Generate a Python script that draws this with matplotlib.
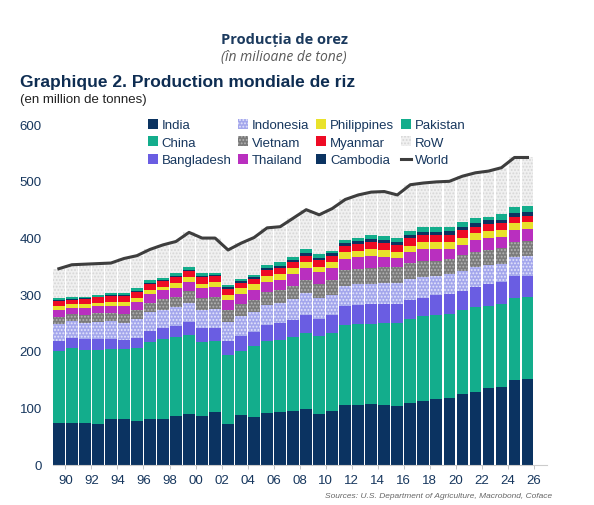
import numpy as np
import matplotlib.pyplot as plt
from matplotlib.patches import Patch
from matplotlib.lines import Line2D

plt.rcParams['font.family'] = ['Liberation Sans', 'DejaVu Sans']
plt.rcParams['hatch.linewidth'] = 0.9

# crop years 1989/90 .. 2025/26, million tonnes (milled)
years = np.arange(1989, 2026)
india = [73, 74, 74, 72, 80, 81, 77, 80, 81, 85, 89, 85, 93, 71, 88, 83, 91, 93, 95,
         98, 89, 95, 104, 104, 106, 104, 103, 108, 112, 115, 118, 124, 128, 134, 137, 149, 150]
china = [127, 131, 128, 130, 123, 122, 129, 136, 141, 140, 139, 130, 124, 122, 112, 125, 126,
         127, 130, 134, 137, 137, 141, 143, 142, 145, 146, 148, 149, 148, 147, 148, 149, 146,
         145, 145, 145]
bangladesh = [17.7, 17.9, 18.3, 18.3, 18.0, 17.0, 17.7, 18.9, 18.9, 19.9, 23.1, 25.1, 24.3,
              25.2, 26.2, 25.2, 28.8, 29.0, 28.8, 31.2, 31.0, 31.7, 33.7, 33.8, 34.4, 34.5,
              34.5, 34.6, 32.7, 34.9, 35.9, 34.6, 35.9, 37.6, 39.1, 37.6, 38.0]
indonesia = [29.1, 29.4, 29.6, 31.4, 31.3, 30.2, 32.3, 33.2, 32.0, 32.0, 33.2, 33.0, 33.0,
             33.4, 35.0, 34.8, 35.0, 35.3, 37.0, 38.3, 36.4, 35.5, 36.5, 36.6, 36.3, 35.6,
             36.2, 37.0, 37.0, 34.2, 34.7, 34.5, 34.4, 34.0, 33.0, 34.1, 34.6]
vietnam = [12.4, 12.4, 13.2, 14.4, 14.8, 15.5, 16.6, 17.3, 18.4, 19.0, 20.9, 20.5, 21.0,
           21.5, 22.1, 22.7, 22.8, 22.9, 24.4, 24.4, 25.0, 26.4, 27.2, 27.5, 28.2, 28.2,
           27.6, 27.4, 27.7, 27.3, 27.1, 27.4, 27.6, 27.0, 26.9, 27.2, 27.0]
thailand = [13.6, 11.3, 13.2, 12.4, 12.4, 14.3, 14.0, 14.4, 15.5, 15.4, 16.5, 17.1, 17.5,
            17.2, 18.0, 17.4, 18.2, 18.3, 19.8, 19.9, 20.3, 20.3, 20.5, 20.2, 20.5, 18.8,
            15.8, 19.2, 20.6, 20.3, 17.7, 18.9, 19.9, 20.9, 20.0, 20.1, 20.0]
philippines = [6.1, 6.3, 6.1, 6.4, 6.9, 7.2, 7.3, 7.6, 5.6, 7.8, 8.1, 8.1, 8.5, 8.8, 9.2,
               9.4, 9.8, 10.5, 10.8, 10.7, 9.8, 10.5, 10.7, 11.4, 11.9, 11.9, 11.0, 11.7,
               12.2, 11.7, 11.9, 12.4, 12.5, 12.0, 12.0, 11.8, 12.0]
myanmar = [8.8, 8.4, 8.6, 9.7, 10.3, 10.5, 10.7, 10.9, 10.3, 10.6, 10.9, 10.8, 10.4, 10.7,
           9.5, 9.6, 10.4, 10.6, 10.7, 11.0, 11.2, 10.5, 10.8, 11.2, 11.9, 12.6, 12.2, 12.7,
           13.2, 13.2, 12.7, 12.6, 11.9, 12.2, 12.0, 12.0, 12.0]
cambodia = [1.7, 1.6, 1.6, 1.4, 1.4, 1.5, 2.0, 2.2, 2.3, 2.4, 2.6, 2.6, 2.5, 2.3, 2.8, 2.6,
            3.8, 4.0, 4.2, 4.6, 4.6, 5.3, 5.5, 5.8, 5.8, 5.8, 5.8, 6.3, 6.1, 5.9, 5.9, 6.0,
            6.2, 6.6, 6.7, 7.1, 7.0]
pakistan = [3.2, 3.2, 3.2, 3.1, 4.0, 3.4, 4.0, 4.3, 4.3, 4.7, 5.2, 4.8, 3.9, 4.5, 4.8, 5.0,
            5.5, 5.4, 5.6, 6.9, 6.9, 4.8, 6.2, 5.5, 6.8, 7.0, 6.8, 6.9, 7.5, 7.2, 7.4, 8.4,
            9.3, 5.5, 9.9, 9.7, 9.5]
world = [345, 352, 353, 354, 355, 363, 368, 379, 387, 393, 409, 399, 399, 378, 390, 400,
         417, 419, 434, 449, 440, 451, 467, 475, 480, 481, 475, 493, 496, 498, 499, 508,
         514, 517, 523, 541, 541]

countries = [india, china, bangladesh, indonesia, vietnam, thailand,
             philippines, myanmar, cambodia, pakistan]
row = np.array(world) - np.sum(np.array(countries), axis=0)

names = ['India', 'China', 'Bangladesh', 'Indonesia', 'Vietnam', 'Thailand',
         'Philippines', 'Myanmar', 'Cambodia', 'Pakistan', 'RoW']
series = countries + [row]
faces = ['#0b3361', '#13ad8c', '#6a5de2', '#a3a6ec', '#7a7a7a', '#b92fbf',
         '#e9e22b', '#ee0b25', '#0b3361', '#13ad8c', '#f0f0f0']
hatches = [None, None, None, '.....', '.....', None, None, None, None, None, '.....']
hcols = [None, None, None, '#e4e5fb', '#b4b4b4', None, None, None, None, None, '#d6d6d6']

navy = '#17375e'

fig = plt.figure(figsize=(5.94, 5.06), dpi=100)
ax = fig.add_axes([53 / 594, 1 - 465.5 / 506, 494 / 594, 340.5 / 506])

x = years + 0.5
bottom = np.zeros(len(years))
handles = []
for vals, name, fc, h, hc in zip(series, names, faces, hatches, hcols):
    vals = np.array(vals, dtype=float)
    if h:
        ax.bar(x, vals, 0.9, bottom=bottom, color=fc, edgecolor=hc, hatch=h, linewidth=0)
        handles.append(Patch(facecolor=fc, edgecolor=hc, hatch=h, linewidth=0, label=name))
    else:
        ax.bar(x, vals, 0.9, bottom=bottom, color=fc, linewidth=0)
        handles.append(Patch(facecolor=fc, linewidth=0, label=name))
    bottom += vals

ax.plot(x, world, color='#3e3e3e', lw=2.2, solid_joinstyle='round')
handles.append(Line2D([], [], color='#3e3e3e', lw=2.2, label='World'))

ax.set_xlim(1989.05, 2027)
ax.set_ylim(0, 600)
ax.set_yticks(range(0, 601, 100))
xt = np.arange(1990, 2027, 2)
ax.set_xticks(xt)
ax.set_xticklabels(['%02d' % (t % 100) for t in xt])
ax.tick_params(axis='y', length=0, pad=8, labelsize=9.5, labelcolor=navy)
ax.tick_params(axis='x', length=3, width=0.6, color='#bbbbbb', pad=4,
               labelsize=9.5, labelcolor=navy)
for s in ['top', 'right', 'left']:
    ax.spines[s].set_visible(False)
ax.spines['bottom'].set_color('#cccccc')
ax.spines['bottom'].set_linewidth(0.8)

fig.legend(handles=handles, ncol=4, loc='upper left', bbox_to_anchor=(148 / 594, 1 - 120 / 506),
           frameon=False, fontsize=9.5, labelcolor=navy, handlelength=0.75, handleheight=0.75,
           handletextpad=0.3, columnspacing=0.5, labelspacing=0.38, borderpad=0, borderaxespad=0)

fig.text(284 / 594, 1 - 40 / 506, 'Producția de orez', ha='center', va='center',
         fontsize=10.5, fontweight='bold', color='#1b3a5e', family=['Open Sans', 'DejaVu Sans'])
fig.text(284 / 594, 1 - 57 / 506, '(în milioane de tone)', ha='center', va='center',
         fontsize=10, style='italic', color='#5a5a5a', family=['Open Sans', 'DejaVu Sans'])
fig.text(20 / 594, 1 - 83 / 506, 'Graphique 2. Production mondiale de riz', ha='left',
         va='center', fontsize=12.5, fontweight='bold', color='#0e2d52')
fig.text(20 / 594, 1 - 100 / 506, '(en million de tonnes)', ha='left', va='center',
         fontsize=9.5, color='#222222')
fig.text(552 / 594, 1 - 497 / 506, 'Sources: U.S. Department of Agriculture, Macrobond, Coface',
         ha='right', va='center', fontsize=6, style='italic', color='#666666')

fig.savefig('out.png', dpi=100)
